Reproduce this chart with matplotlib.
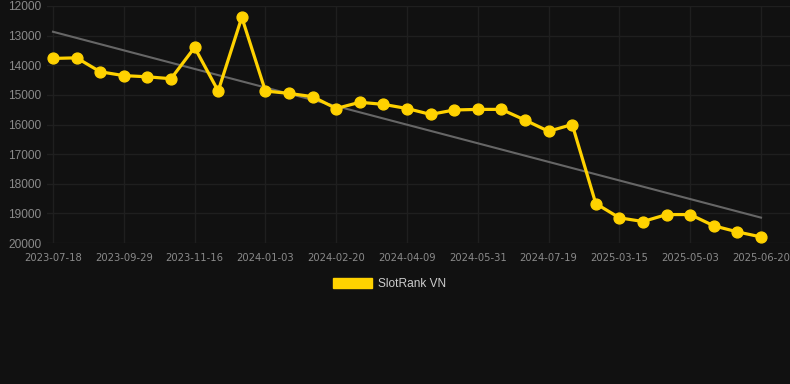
import numpy as np
import matplotlib
matplotlib.use("Agg")
import matplotlib.pyplot as plt
from matplotlib.patches import Patch

dates = ["2023-07-18", "", "", "2023-09-29", "", "", "2023-11-16", "", "", "2024-01-03",
         "", "", "2024-02-20", "", "", "2024-04-09", "", "", "2024-05-31", "", "",
         "2024-07-19", "", "", "2025-03-15", "", "", "2025-05-03", "", "", "2025-06-20"]
ranks = [13770, 13750, 14220, 14350, 14390, 14455, 13400, 14870, 12380, 14870,
         14950, 15060, 15460, 15250, 15320, 15460, 15660, 15510, 15490, 15490,
         15850, 16230, 16000, 18670, 19150, 19275, 19040, 19040, 19420, 19625, 19795]
series_name = "SlotRank VN"
yticks = [12000, 13000, 14000, 15000, 16000, 17000, 18000, 19000, 20000]

BG = "#111111"
GRID = "#1f1f1f"
YELLOW = "#FFD200"
TREND = "#666666"
TXT = "#8a8a8a"

W, H = 790, 384
fig = plt.figure(figsize=(W / 100, H / 100), dpi=100, facecolor=BG)
left, right, top, bottom = 47, 790, 6, 243
ax = fig.add_axes([left / W, 1 - bottom / H, (right - left) / W, (bottom - top) / H])
ax.set_facecolor(BG)

x = np.arange(len(ranks))
ax.plot(x, ranks, color=YELLOW, lw=2.3, marker="o", ms=7.8, zorder=3)
coef = np.polyfit(x, ranks, 1)
ax.plot(x, np.polyval(coef, x), color=TREND, lw=1.5, zorder=2)

step = 23.6
ax.set_xlim(-(53 - left) / step, 30 + (right - 761) / step)
ax.set_ylim(20000, 12000)
ax.set_yticks(yticks)
ax.set_yticklabels([str(v) for v in yticks])
tick_idx = [i for i, d in enumerate(dates) if d]
ax.set_xticks(tick_idx)
ax.set_xticklabels([dates[i] for i in tick_idx])

for s in ax.spines.values():
    s.set_visible(False)
ax.grid(True, color=GRID, lw=1)
ax.set_axisbelow(True)
ax.tick_params(axis="y", length=0, pad=4, labelsize=8.6, labelcolor=TXT)
ax.tick_params(axis="x", length=0, pad=7, labelsize=7.2, labelcolor=TXT)
for lab in ax.get_xticklabels():
    lab.set_family(["Liberation Sans Narrow", "DejaVu Sans"])
for lab in ax.get_yticklabels():
    lab.set_family(["Liberation Sans", "DejaVu Sans"])

handle = Patch(facecolor=YELLOW, edgecolor=YELLOW)
leg = fig.legend([handle], [series_name], loc="center",
                 bbox_to_anchor=(0.5 - 5.5 / W, 1 - 284 / H),
                 frameon=False, handlelength=3.25, handleheight=1.0,
                 handletextpad=0.5, prop={"family": ["Liberation Sans", "DejaVu Sans"], "size": 8.6})
for t in leg.get_texts():
    t.set_color("#cccccc")

fig.savefig("out.png", dpi=100, facecolor=BG)
